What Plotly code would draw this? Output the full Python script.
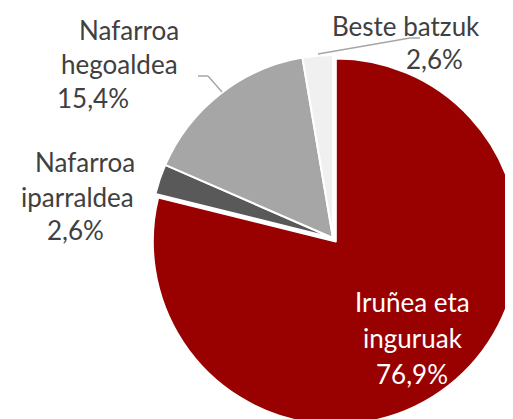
import plotly.graph_objects as go

# Datuak
eskualdeak = ["Iruñea eta inguruak", "Nafarroa iparraldea", "Nafarroa hegoaldea", "Beste batzuk"]
ehunekoak = [76.9, 2.6, 15.4, 2.6]
koloreak = ["#990000", "#595959", "#A6A6A6", "#F0F0F0"]

W, H = 513, 419
OFF = 8  # orriaren marjina (body margin)


def px(x):
    return (x - OFF) / W


def py(y):
    return 1 - (y - OFF) / H


def pct(v):
    return f"{v:.1f}".replace(".", ",") + "%"


# tarta: zentroa eta erradioa pantailako pixeletan
cx, cy, r, tira = 333, 238, 183, 0.025
erdia = r * (1 + tira)

fig = go.Figure()
fig.add_trace(go.Pie(
    labels=eskualdeak,
    values=ehunekoak,
    sort=False,
    direction="clockwise",
    rotation=0,
    pull=[tira, 0, 0, 0],
    marker=dict(colors=koloreak, line=dict(color="white", width=2)),
    textinfo="none",
    hoverinfo="label+percent",
    domain=dict(x=[px(cx - erdia), min(1, px(cx + erdia))],
                y=[max(0, py(cy + erdia)), py(cy - erdia)]),
    showlegend=False,
))

gris = "#404040"
font = "Lato, 'Open Sans', sans-serif"

# etiketa lerroak: (testua, x erdia, y erdia, kolorea)
lerroak = [
    ("Nafarroa", 129, 30, gris),
    ("hegoaldea", 119, 64, gris),
    (pct(ehunekoak[2]), 93, 98, gris),
    ("Nafarroa", 85, 162, gris),
    ("iparraldea", 77, 197, gris),
    (pct(ehunekoak[1]), 75, 230, gris),
    ("Beste batzuk", 406, 26, gris),
    (pct(ehunekoak[3]), 434, 59, gris),
    ("Iruñea eta", 412, 302, "white"),
    ("inguruak", 413, 338, "white"),
    (pct(ehunekoak[0]), 412, 374, "white"),
]
for testua, x, y, kol in lerroak:
    fig.add_annotation(
        x=px(x), y=py(y), xref="paper", yref="paper",
        text=testua, showarrow=False, xanchor="center", yanchor="middle",
        font=dict(family=font, size=26, color=kol),
    )

# lerro gidariak
for puntuak in [[(198, 76), (208, 76), (222, 92)], [(318, 54), (410, 38), (420, 38)]]:
    for (x0, y0), (x1, y1) in zip(puntuak[:-1], puntuak[1:]):
        fig.add_shape(type="line", xref="paper", yref="paper",
                      x0=px(x0), y0=py(y0), x1=px(x1), y1=py(y1),
                      line=dict(color="#A6A6A6", width=1.5))

fig.update_layout(
    width=W, height=H,
    margin=dict(l=0, r=0, t=0, b=0),
    paper_bgcolor="white",
    plot_bgcolor="white",
)

fig.write_html("out.html")
